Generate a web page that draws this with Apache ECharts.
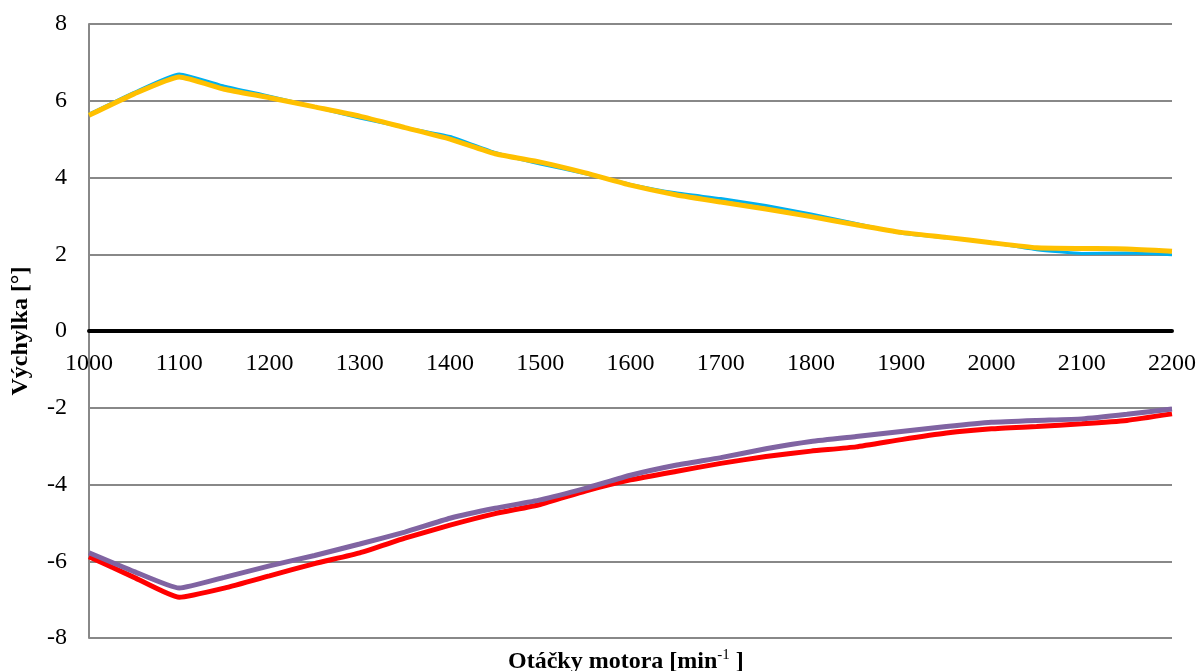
<!DOCTYPE html>
<html>
<head>
<meta charset="utf-8">
<script src="https://cdn.jsdelivr.net/npm/echarts@6/dist/echarts.min.js"></script>
<style>html,body{margin:0;padding:0;background:#fff;}#c{width:1198px;height:671px;}</style>
</head>
<body>
<div id="c"></div>
<script>
var rpm = [1000,1050,1100,1150,1200,1250,1300,1350,1400,1450,1500,1550,1600,1650,1700,1750,1800,1850,1900,1950,2000,2050,2100,2150,2200];
var blueVals = [5.65,6.22,6.70,6.38,6.12,5.84,5.55,5.30,5.07,4.65,4.35,4.10,3.82,3.60,3.45,3.27,3.05,2.80,2.55,2.43,2.30,2.12,2.02,2.03,1.99];
var yellowVals = [5.62,6.18,6.62,6.30,6.08,5.84,5.60,5.30,5.00,4.62,4.40,4.12,3.80,3.55,3.36,3.18,2.98,2.77,2.57,2.44,2.30,2.17,2.15,2.14,2.08];
var redVals = [-5.88,-6.42,-6.94,-6.70,-6.38,-6.06,-5.78,-5.40,-5.06,-4.76,-4.52,-4.17,-3.88,-3.66,-3.45,-3.27,-3.13,-3.02,-2.83,-2.66,-2.55,-2.49,-2.42,-2.33,-2.16];
var purpleVals = [-5.78,-6.27,-6.70,-6.42,-6.12,-5.85,-5.55,-5.24,-4.88,-4.62,-4.40,-4.10,-3.76,-3.50,-3.30,-3.07,-2.88,-2.75,-2.62,-2.49,-2.38,-2.33,-2.29,-2.17,-2.03];
var yTitle = 'Výchylka [°]';
var xTitleMain = 'Otáčky motora [min';
var xTitleSup = '-1';
var xTitleEnd = ' ]';

var W = 1198, H = 671;
var gridTop = 24, gridBottom = 33, gridLeft = 89, gridRight = 26;
var yMin = -8, yMax = 8;
var plotH = H - gridTop - gridBottom;
var zeroOffset = -plotH * (0 - yMin) / (yMax - yMin);

function pairs(v){ return rpm.map(function(r,i){ return [r, v[i]]; }); }
var font = '"Liberation Serif", "Times New Roman", serif';
function line(name, vals, color, width){
  return { name:name, type:'line', data:pairs(vals), showSymbol:false, smooth:0.15,
    lineStyle:{color:color, width:width}, itemStyle:{color:color}, z:3 };
}
var chart = echarts.init(document.getElementById('c'));
chart.setOption({
  animation:false,
  backgroundColor:'#fff',
  grid:{left:gridLeft, right:gridRight, top:gridTop, bottom:gridBottom, containLabel:false, outerBoundsMode:'none'},
  title:{
    text:'{b|' + xTitleMain + '}{s|' + xTitleSup + '}{b|' + xTitleEnd + '}',
    left:503, top:643,
    textStyle:{ rich:{
      b:{fontFamily:font, fontWeight:'bold', fontSize:24, color:'#000', verticalAlign:'bottom', lineHeight:26},
      s:{fontFamily:font, fontWeight:'normal', fontSize:15, color:'#000', verticalAlign:'top', padding:[0,0,10,0], lineHeight:26}
    }}
  },
  xAxis:{
    type:'value', min:1000, max:2200, interval:100,
    position:'bottom', offset:zeroOffset,
    axisLine:{onZero:false, lineStyle:{color:'#000', width:4}},
    axisTick:{show:false},
    splitLine:{show:false},
    axisLabel:{color:'#000', fontFamily:font, fontSize:24, margin:21,
      formatter:function(v){ return String(v); }}
  },
  yAxis:{
    type:'value', min:yMin, max:yMax, interval:2,
    name:yTitle, nameLocation:'middle', nameGap:56, nameRotate:90,
    nameTextStyle:{fontFamily:font, fontWeight:'bold', fontSize:24, color:'#000'},
    axisLine:{show:true, lineStyle:{color:'#888', width:2}},
    axisTick:{show:false},
    splitLine:{show:true, lineStyle:{color:'#888', width:2}},
    axisLabel:{color:'#000', fontFamily:font, fontSize:24, margin:22}
  },
  series:[
    line('blue', blueVals, '#00B0F0', 3),
    line('yellow', yellowVals, '#FFC000', 5),
    line('red', redVals, '#FF0000', 5),
    line('purple', purpleVals, '#8064A2', 5)
  ]
});
</script>
</body>
</html>
